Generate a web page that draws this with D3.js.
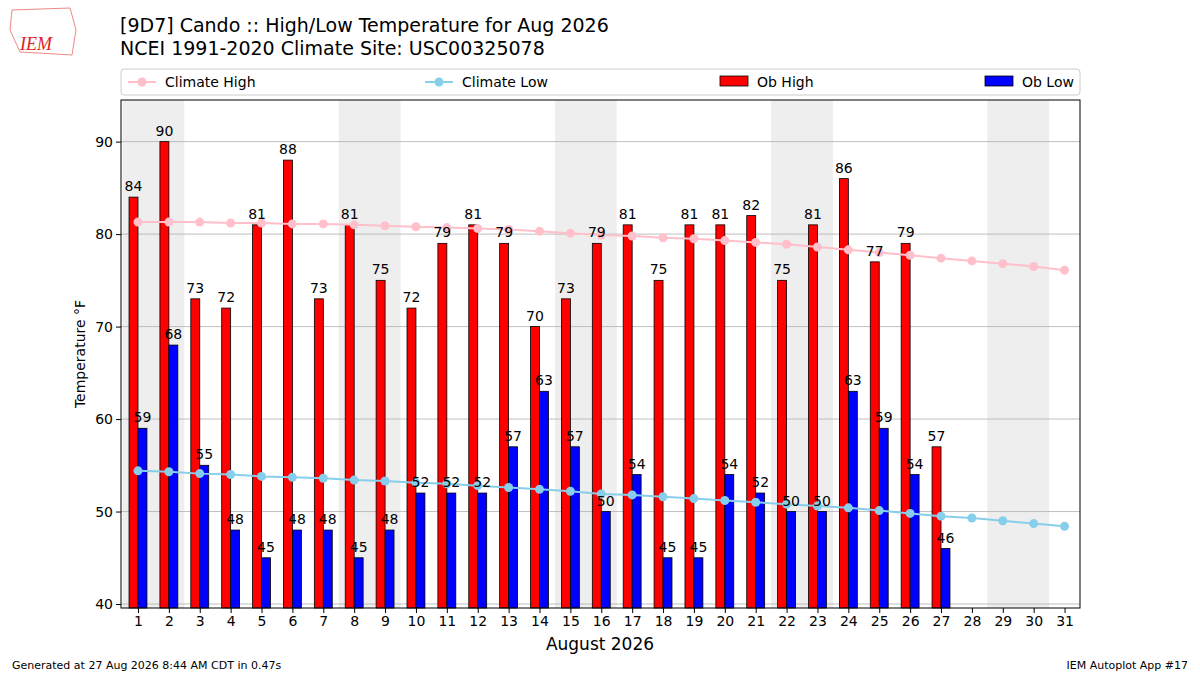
<!DOCTYPE html>
<html><head><meta charset="utf-8">
<script src="https://cdn.jsdelivr.net/npm/d3@7"></script>
<style>body{margin:0;background:#fff;font-family:"DejaVu Sans",sans-serif}</style>
</head><body><svg id="c" width="1200" height="675"></svg>
<script>
const days = d3.range(1,32);
const obHigh = [84,90,73,72,81,88,73,81,75,72,79,81,79,70,73,79,81,75,81,81,82,75,81,86,77,79,57];
const obLow = [59,68,55,48,45,48,48,45,48,52,52,52,57,63,57,50,54,45,45,54,52,50,50,63,59,54,46];
const climHigh = [81.3,81.3,81.3,81.2,81.2,81.1,81.1,81.0,80.9,80.8,80.7,80.6,80.5,80.3,80.1,79.9,79.8,79.6,79.5,79.3,79.1,78.9,78.6,78.3,78.0,77.7,77.4,77.1,76.8,76.5,76.1];
const climLow = [54.4,54.3,54.1,54.0,53.8,53.7,53.6,53.4,53.3,53.1,53.0,52.8,52.6,52.4,52.2,51.9,51.8,51.6,51.4,51.2,51.0,50.8,50.6,50.4,50.1,49.8,49.5,49.3,49.0,48.7,48.4];
const weekends = [1,8,15,22,29];
const yTicks = [40,50,60,70,80,90];

const svg = d3.select("#c");
const L=121,R=1080,T=100,B=608;
const x = d3.scaleLinear().domain([0.45,31.5]).range([L,R]);
const y = d3.scaleLinear().domain([39.57,94.5]).range([B,T]);
const dx = x(2)-x(1);

const g = svg.append("g");
weekends.forEach(d=>g.append("rect").attr("x",x(d-0.5)).attr("width",2*dx).attr("y",T).attr("height",B-T).attr("fill","#eeeeee"));
yTicks.forEach(t=>g.append("line").attr("x1",L).attr("x2",R).attr("y1",y(t)).attr("y2",y(t)).attr("stroke","#b0b0b0").attr("stroke-width",0.8));

const bw = dx*0.29;
const labels = [];
obHigh.forEach((v,i)=>{
  const cx=x(i+1)-bw/2;
  g.append("rect").attr("x",cx-bw/2).attr("width",bw).attr("y",y(v)).attr("height",B-y(v)).attr("fill","red").attr("stroke","#000").attr("stroke-width",0.8);
  labels.push([cx,v]);
});
obLow.forEach((v,i)=>{
  const cx=x(i+1)+bw/2;
  g.append("rect").attr("x",cx-bw/2).attr("width",bw).attr("y",y(v)).attr("height",B-y(v)).attr("fill","blue").attr("stroke","#000").attr("stroke-width",0.8);
  labels.push([cx,v]);
});
const line = d3.line().x((d,i)=>x(i+1)).y(d=>y(d));
[[climHigh,"pink"],[climLow,"skyblue"]].forEach(([arr,c])=>{
  g.append("path").attr("d",line(arr)).attr("fill","none").attr("stroke",c).attr("stroke-width",2);
  arr.forEach((v,i)=>g.append("circle").attr("cx",x(i+1)).attr("cy",y(v)).attr("r",4.5).attr("fill",c));
});
labels.forEach(([cx,v])=>g.append("text").attr("x",cx).attr("y",y(v)-6).attr("text-anchor","middle").attr("font-size",14).text(v));
g.append("rect").attr("x",L).attr("y",T).attr("width",R-L).attr("height",B-T).attr("fill","none").attr("stroke","#000");

const xa = svg.append("g").attr("transform",`translate(0,${B})`).call(d3.axisBottom(x).tickValues(days).tickFormat(d3.format("d")).tickSize(5).tickSizeOuter(0));
const ya = svg.append("g").attr("transform",`translate(${L},0)`).call(d3.axisLeft(y).tickValues(yTicks).tickSize(5).tickSizeOuter(0));
[xa,ya].forEach(a=>{a.select(".domain").remove();a.selectAll("text").attr("font-size",14).attr("font-family","DejaVu Sans");});
svg.append("text").attr("x",600).attr("y",650).attr("text-anchor","middle").attr("font-size",17).text("August 2026");
svg.append("text").attr("transform","translate(85,354) rotate(-90)").attr("text-anchor","middle").attr("font-size",14).text("Temperature °F");

svg.append("text").attr("x",120).attr("y",32).attr("font-size",19).text("[9D7] Cando :: High/Low Temperature for Aug 2026");
svg.append("text").attr("x",120).attr("y",55).attr("font-size",19).text("NCEI 1991-2020 Climate Site: USC00325078");

const lg = svg.append("g");
lg.append("rect").attr("x",121).attr("y",69).attr("width",959).attr("height",26).attr("rx",3).attr("fill","#fff").attr("stroke","#ccc");
[["Climate High","pink",128,"l"],["Climate Low","skyblue",425,"l"],["Ob High","red",720,"b"],["Ob Low","blue",985,"b"]].forEach(([t,c,xx,k])=>{
  if(k=="l"){lg.append("line").attr("x1",xx).attr("x2",xx+28).attr("y1",82).attr("y2",82).attr("stroke",c).attr("stroke-width",2);
    lg.append("circle").attr("cx",xx+14).attr("cy",82).attr("r",4.5).attr("fill",c);}
  else lg.append("rect").attr("x",xx).attr("y",76).attr("width",28).attr("height",10).attr("fill",c).attr("stroke","#000").attr("stroke-width",0.8);
  lg.append("text").attr("x",xx+37).attr("y",87).attr("font-size",14).text(t);
});
svg.append("text").attr("x",12).attr("y",669).attr("font-size",11).text("Generated at 27 Aug 2026 8:44 AM CDT in 0.47s");
svg.append("text").attr("x",1188).attr("y",669).attr("text-anchor","end").attr("font-size",11).text("IEM Autoplot App #17");
svg.append("path").attr("d","M12,10 L70,8 L76,30 L72,55 L20,52 L10,30 Z").attr("fill","none").attr("stroke","#e88").attr("stroke-width",1);
svg.append("text").attr("x",20).attr("y",50).attr("font-size",18).attr("font-style","italic").attr("font-family","Liberation Serif").attr("fill","#d22").text("IEM");
</script></body></html>
